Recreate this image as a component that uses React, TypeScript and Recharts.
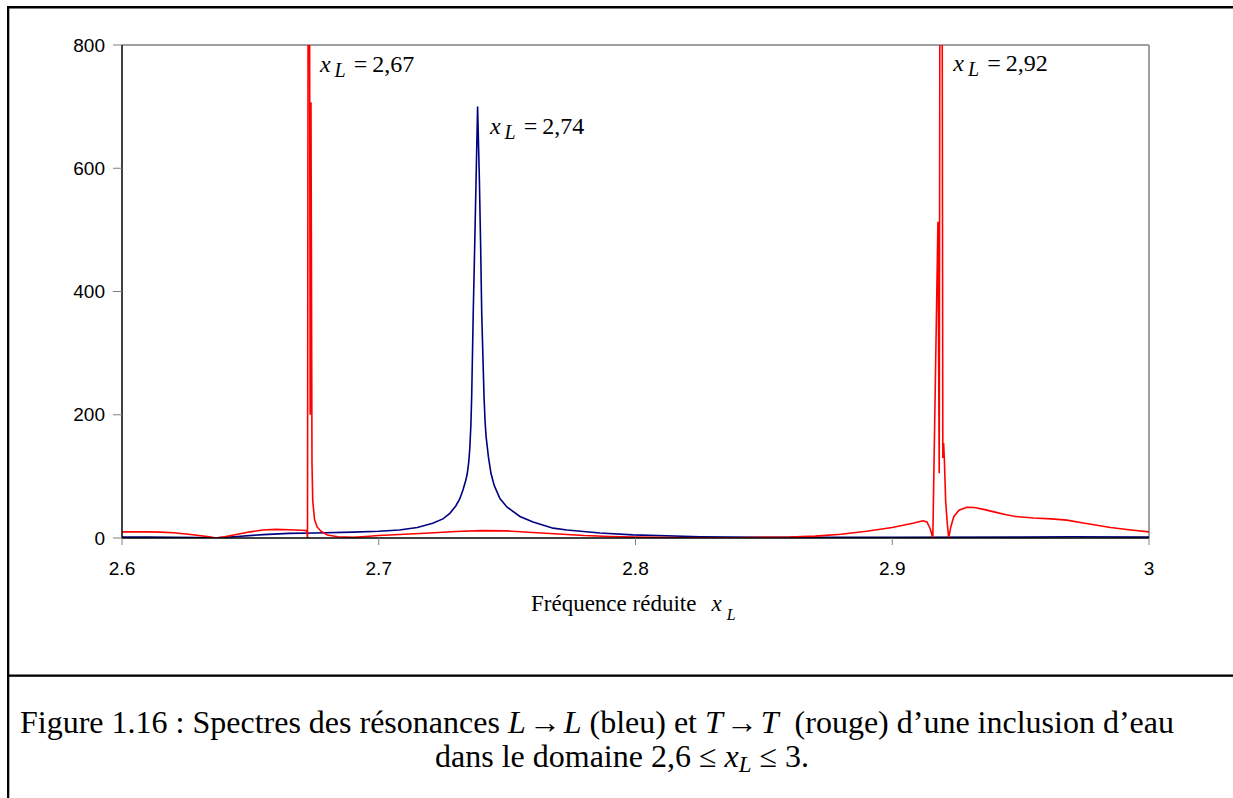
import React from "react";
import { LineChart, Line, XAxis, YAxis, ReferenceLine, ReferenceDot } from "recharts";

// Reduced frequency x_L
const blueX = [2.6, 2.61, 2.62, 2.63, 2.637, 2.645, 2.655, 2.665, 2.675, 2.69, 2.7, 2.708, 2.715, 2.721, 2.725, 2.7277, 2.73, 2.7315, 2.7328, 2.7338, 2.7345, 2.7351, 2.7355, 2.7359, 2.7362, 2.7368, 2.7374, 2.7379, 2.7385, 2.7392, 2.7397, 2.7401, 2.7406, 2.741, 2.7414, 2.7418, 2.7427, 2.7437, 2.745, 2.7472, 2.75, 2.755, 2.7601, 2.7679, 2.7733, 2.7862, 2.799, 2.8251, 2.85, 2.9, 2.95, 2.97, 3.0];
const blueY = [1.5, 1.5, 1.2, 0.6, 0.2, 2.5, 5.5, 7.5, 8, 9.5, 11, 13, 17, 24, 31, 40, 52, 63, 78, 92, 105, 125, 148, 185, 230, 365, 480, 580, 700, 580, 470, 365, 290, 230, 190, 165, 132, 105, 85, 64, 50, 35, 26, 16, 13, 8, 5, 2, 1, 1, 1.5, 2, 1.5];

const redX = [2.6, 2.605, 2.61, 2.615, 2.62, 2.625, 2.63, 2.634, 2.6366, 2.64, 2.645, 2.65, 2.655, 2.66, 2.665, 2.67, 2.672, 2.67225, 2.6726, 2.6729, 2.6733, 2.6736, 2.674, 2.6743, 2.675, 2.676, 2.6775, 2.68, 2.684, 2.69, 2.695, 2.7, 2.71, 2.72, 2.73, 2.74, 2.75, 2.76, 2.77, 2.78, 2.79, 2.8, 2.82, 2.84, 2.86, 2.87, 2.88, 2.89, 2.9, 2.908, 2.912, 2.9135, 2.9148, 2.9158, 2.9178, 2.9183, 2.9187, 2.9193, 2.9197, 2.92, 2.9203, 2.9208, 2.9214, 2.922, 2.9228, 2.924, 2.926, 2.929, 2.932, 2.936, 2.94, 2.944, 2.948, 2.955, 2.962, 2.968, 2.975, 2.985, 2.993, 3.0];
const redY = [10, 10, 10, 9.5, 8.5, 6.5, 4, 1.8, 0, 2, 6, 10, 13, 14, 13.5, 12.5, 12, 0, 1300, 1300, 200, 707, 120, 60, 30, 18, 11, 5, 2, 1, 2.5, 4, 6, 8, 10.5, 12, 11.5, 9, 6.5, 4, 2.5, 1.5, 0.5, 0.5, 1.5, 3, 6, 11, 17, 24, 28, 26, 15, 0, 513, 105, 1300, 1300, 130, 154, 127, 60, 25, 0, 18, 35, 45, 50, 49.5, 46, 42, 38, 35, 32.5, 31, 29, 24, 17, 13, 10];

const xTicks = [2.6, 2.7, 2.8, 2.9, 3];
const yTicks = [0, 200, 400, 600, 800];

const annX = [2.6771, 2.7433, 2.9238];
const annY = [756, 655, 757];
const annText = ["2,67", "2,74", "2,92"];

const blueData = blueX.map((x, i) => ({ x, v: blueY[i] }));
const redData = redX.map((x, i) => ({ x, v: redY[i] }));

const SERIF = "'Liberation Serif', 'Times New Roman', serif";
const SANS = "'Liberation Sans', Arial, sans-serif";

const makeLabel = (txt: string) => (props: any) => {
  const vb = props.viewBox || {};
  const x = (vb.x ?? 0) + (vb.width ?? 0) / 2;
  const y = (vb.y ?? 0) + (vb.height ?? 0) / 2;
  return (
    <text x={x} y={y} fontFamily={SERIF} fontSize={24} fill="#000">
      <tspan fontStyle="italic">x</tspan>
      <tspan fontStyle="italic" fontSize={20} dx={4} dy={5}>L</tspan>
      <tspan dx={8} dy={-5}>=</tspan>
      <tspan dx={5}>{txt}</tspan>
    </text>
  );
};

export default function App() {
  return (
    <div style={{ position: "absolute", left: 0, top: 0, width: 1233, height: 798, overflow: "hidden", background: "#fff" }}>
      <svg width={1233} height={798} style={{ position: "absolute", left: 0, top: 0 }}>
        <rect x={7} y={6} width={1226} height={2.5} fill="#000" />
        <rect x={7} y={6} width={2.3} height={792} fill="#000" />
        <rect x={7} y={674.5} width={1226} height={2.3} fill="#000" />
        <text x={531} y={611} fontFamily={SERIF} fontSize={23} fill="#000">
          Fréquence réduite
          <tspan dx={15} fontStyle="italic">x</tspan>
          <tspan dx={5} dy={9} fontStyle="italic" fontSize={16}>L</tspan>
        </text>
        <text x={20} y={733} fontFamily={SERIF} fontSize={32} fill="#000" xmlSpace="preserve">
          {"Figure 1.16 : Spectres des résonances "}
          <tspan fontStyle="italic">L</tspan>
          <tspan dx={3}>→</tspan>
          <tspan dx={3} fontStyle="italic">L</tspan>
          {" (bleu) et "}
          <tspan fontStyle="italic">T</tspan>
          <tspan dx={3}>→</tspan>
          <tspan dx={3} fontStyle="italic">T</tspan>
          {"  (rouge) d’une inclusion d’eau"}
        </text>
        <text x={435} y={767} fontFamily={SERIF} fontSize={32} fill="#000" xmlSpace="preserve">
          {"dans le domaine 2,6 ≤ "}
          <tspan fontStyle="italic">x</tspan>
          <tspan fontStyle="italic" fontSize={23} dy={5}>L</tspan>
          <tspan dy={-5}>{" ≤ 3."}</tspan>
        </text>
      </svg>
      <div style={{ position: "absolute", left: 0, top: 0 }}>
        <LineChart width={1233} height={660} margin={{ top: 45, right: 84, left: 62, bottom: 92 }}>
          <XAxis
            type="number"
            dataKey="x"
            domain={[2.6, 3]}
            ticks={xTicks}
            allowDataOverflow
            height={30}
            axisLine={{ stroke: "#000", strokeWidth: 1.5 }}
            tickLine={{ stroke: "#808080" }}
            tickSize={7}
            tickMargin={17}
            tick={{ fill: "#000", fontSize: 19, fontFamily: SANS }}
          />
          <YAxis
            type="number"
            domain={[0, 800]}
            ticks={yTicks}
            allowDataOverflow
            width={60}
            axisLine={{ stroke: "#000", strokeWidth: 1.5 }}
            tickLine={{ stroke: "#808080" }}
            tickSize={9}
            tickMargin={8}
            tick={{ fill: "#000", fontSize: 19, fontFamily: SANS }}
          />
          <ReferenceLine y={800} stroke="#808080" strokeWidth={1.5} />
          <ReferenceLine x={3} stroke="#808080" strokeWidth={1.5} />
          <Line data={blueData} dataKey="v" type="linear" stroke="#000080" strokeWidth={1.6} dot={false} isAnimationActive={false} />
          <Line data={redData} dataKey="v" type="linear" stroke="#FF0000" strokeWidth={1.6} dot={false} isAnimationActive={false} />
          {annX.map((ax, i) => (
            <ReferenceDot key={i} x={ax} y={annY[i]} r={0} fill="none" stroke="none" ifOverflow="visible" label={makeLabel(annText[i])} />
          ))}
        </LineChart>
      </div>
    </div>
  );
}
